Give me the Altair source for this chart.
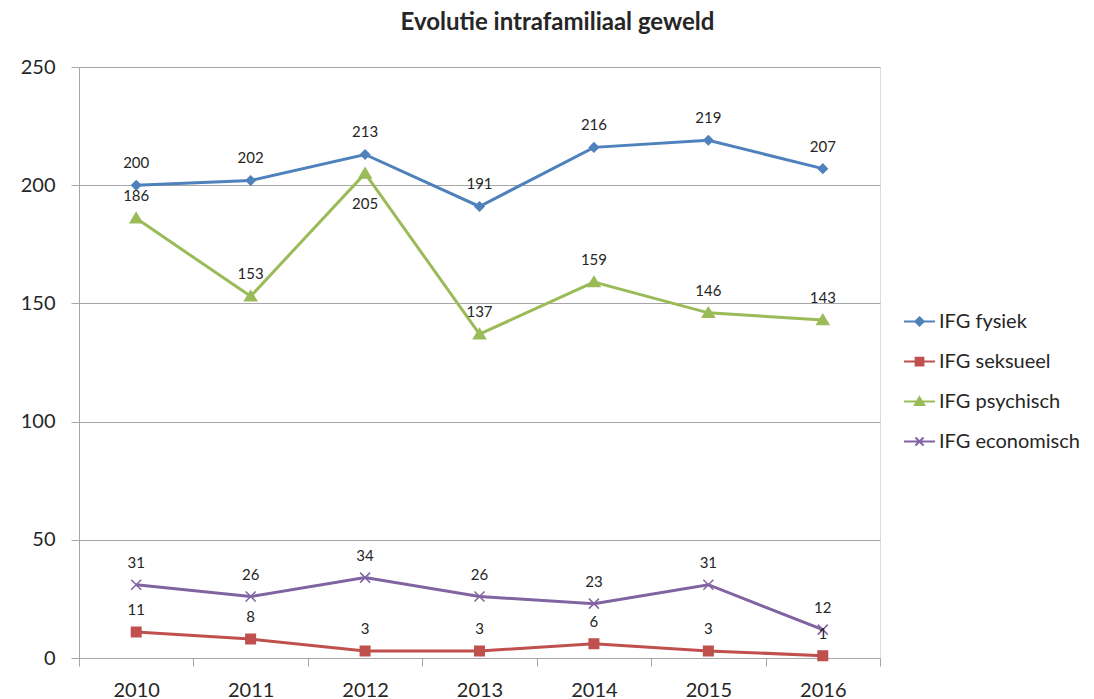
import altair as alt
import pandas as pd

years = [2010, 2011, 2012, 2013, 2014, 2015, 2016]
series_names = ["IFG fysiek", "IFG seksueel", "IFG psychisch", "IFG economisch"]
fysiek = [200, 202, 213, 191, 216, 219, 207]
seksueel = [11, 8, 3, 3, 6, 3, 1]
psychisch = [186, 153, 205, 137, 159, 146, 143]
economisch = [31, 26, 34, 26, 23, 31, 12]
colors = ["#4F81BD", "#C0504D", "#9BBB59", "#8064A2"]
labels_below = [("IFG psychisch", 2012)]

# marker paths (chart) and legend paths (line + marker)
marker_paths = [
    "M0,-0.9L0.9,0L0,0.9L-0.9,0Z",
    "M-0.95,-0.95H0.95V0.95H-0.95Z",
    "M0,-1.1L1.2,0.9H-1.2Z",
    "M-1,-1L1,1M-1,1L1,-1",
]
legend_paths = [
    "M-1,0H1M0,-0.27L0.27,0L0,0.27L-0.27,0Z",
    "M-1,0H1M-0.25,-0.25H0.25V0.25H-0.25Z",
    "M-1,0H1M0,-0.28L0.3,0.22H-0.3Z",
    "M-1,0H1M-0.26,-0.26L0.26,0.26M-0.26,0.26L0.26,-0.26",
]

rows = []
for name, vals in zip(series_names, [fysiek, seksueel, psychisch, economisch]):
    for y, v in zip(years, vals):
        rows.append({"year": str(y), "series": name, "value": v,
                     "below": (name, y) in labels_below, "hidden": -100})
df = pd.DataFrame(rows)

FONT = "Lato"
TXT = "#262626"
GRID = "#a6a6a6"

xenc = alt.X("year:O", bandPosition=0.5,
             scale=alt.Scale(type="band", paddingInner=0, paddingOuter=0),
             axis=alt.Axis(title=None, labelAngle=0, tickBand="extent", grid=False,
                           tickSize=8, labelPadding=14, labelFontSize=20, labelFont=FONT,
                           labelColor=TXT, domainColor=GRID, tickColor=GRID))
yscale = alt.Scale(domain=[0, 250], nice=False, zero=True)
yenc = alt.Y("value:Q", scale=yscale,
             axis=alt.Axis(title=None, values=[0, 50, 100, 150, 200, 250], grid=True,
                           gridColor=GRID, domainColor=GRID, tickColor=GRID, tickSize=8,
                           labelPadding=16, labelFontSize=20, labelFont=FONT,
                           labelColor=TXT))
cscale = alt.Scale(domain=series_names, range=colors)

base = alt.Chart(df)

lines = base.mark_line(strokeWidth=3).encode(
    x=xenc, y=yenc,
    color=alt.Color("series:N", scale=cscale, legend=None),
    detail="series:N",
)

markers = base.mark_point(filled=True, size=100, strokeWidth=1.5, opacity=1).encode(
    x=xenc, y=yenc,
    color=alt.Color("series:N", scale=cscale, legend=None),
    stroke=alt.Stroke("series:N", scale=cscale, legend=None),
    shape=alt.Shape("series:N", scale=alt.Scale(domain=series_names, range=marker_paths),
                    legend=None),
)

labels_above = base.transform_filter("!datum.below").mark_text(
    dy=-22, fontSize=15, font=FONT, color=TXT, baseline="middle").encode(
    x=xenc, y=yenc, text="value:Q")
labels_bel = base.transform_filter("datum.below").mark_text(
    dy=31, fontSize=15, font=FONT, color=TXT, baseline="middle").encode(
    x=xenc, y=yenc, text="value:Q")

leg = alt.Legend(title=None, orient="none", legendX=824, legendY=238,
                 symbolSize=961, symbolStrokeWidth=2, labelFontSize=20, labelFont=FONT,
                 labelColor=TXT, labelOffset=3, rowPadding=13, padding=0)
legend_layer = base.mark_point(filled=True, size=961, strokeWidth=2, opacity=1,
                               clip=True).encode(
    x=xenc,
    y=alt.Y("hidden:Q", scale=yscale),
    color=alt.Color("series:N", scale=cscale, legend=leg),
    stroke=alt.Stroke("series:N", scale=cscale, legend=leg),
    shape=alt.Shape("series:N", scale=alt.Scale(domain=series_names, range=legend_paths),
                    legend=leg),
)

chart = alt.layer(lines, markers, labels_above, labels_bel, legend_layer).resolve_scale(
    color="independent", shape="independent", stroke="independent"
).properties(
    width=801, height=591,
    padding={"left": 71, "top": 59, "right": 200, "bottom": 40},
    autosize=alt.AutoSizeParams(type="none"),
    title=alt.TitleParams("Evolutie intrafamiliaal geweld", font=FONT, fontSize=24,
                          fontWeight="bold", color=TXT, anchor="middle", frame="group",
                          dx=78, offset=22),
).configure_view(stroke=None).configure(background="white")

chart.save("out.html", embed_options={"renderer": "svg", "actions": False})
